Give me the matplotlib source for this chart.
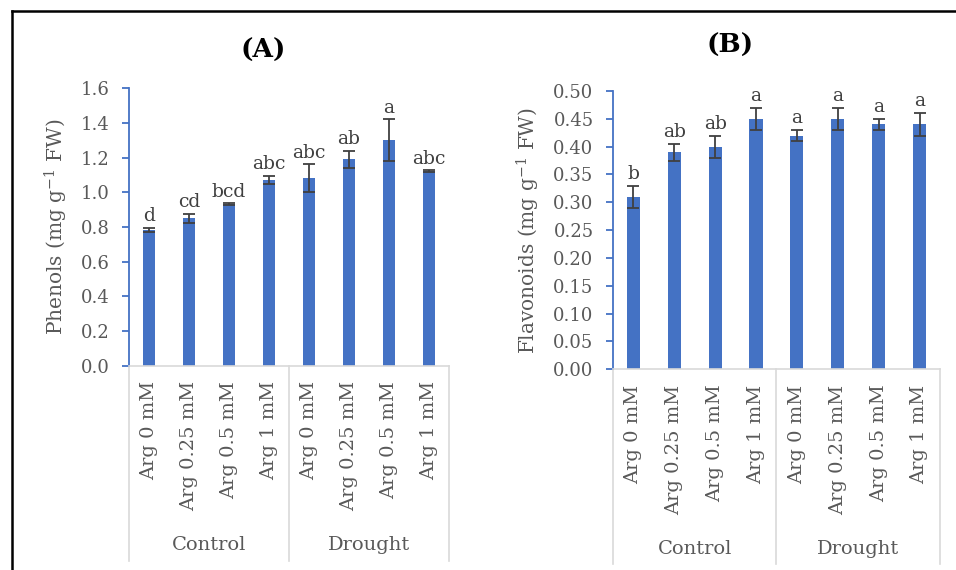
import matplotlib
matplotlib.use('Agg')
import matplotlib.pyplot as plt
from matplotlib.lines import Line2D

plt.rcParams['font.family'] = ['DejaVu Serif']
plt.rcParams['mathtext.fontset'] = 'dejavuserif'

# Data
treatments = ['Arg 0 mM', 'Arg 0.25 mM', 'Arg 0.5 mM', 'Arg 1 mM',
              'Arg 0 mM', 'Arg 0.25 mM', 'Arg 0.5 mM', 'Arg 1 mM']
groups = ['Control', 'Drought']

phenols = [0.785, 0.85, 0.93, 1.07, 1.08, 1.19, 1.30, 1.12]
phenols_err = [0.012, 0.025, 0.006, 0.022, 0.08, 0.05, 0.12, 0.006]
phenols_letters = ['d', 'cd', 'bcd', 'abc', 'abc', 'ab', 'a', 'abc']

flavonoids = [0.31, 0.39, 0.40, 0.45, 0.42, 0.45, 0.44, 0.44]
flavonoids_err = [0.02, 0.015, 0.02, 0.02, 0.01, 0.02, 0.01, 0.02]
flavonoids_letters = ['b', 'ab', 'ab', 'a', 'a', 'a', 'a', 'a']

bar_color = '#4472C4'
text_gray = '#595959'
grid_gray = '#D9D9D9'

fig = plt.figure(figsize=(9.56, 5.70), dpi=100)
axA = fig.add_axes([0.1349, 0.3579, 0.3347, 0.4877])
axB = fig.add_axes([0.6412, 0.3521, 0.3420, 0.4883])


def draw_panel(ax, vals, errs, letters, ymax, step, fmt, ylabel, title, title_xy):
    x = list(range(len(vals)))
    ax.bar(x, vals, width=0.32, color=bar_color, zorder=2)
    ax.errorbar(x, vals, yerr=errs, fmt='none', ecolor='#404040',
                elinewidth=1.3, capsize=4.5, capthick=1.3, zorder=3)
    for xi, v, e, lab in zip(x, vals, errs, letters):
        ax.text(xi, v + e + ymax * 0.01, lab, ha='center', va='bottom',
                fontsize=13.5, color='#404040')
    ax.set_xlim(-0.5, len(vals) - 0.5)
    ax.set_ylim(0, ymax)
    ticks = [i * step for i in range(int(round(ymax / step)) + 1)]
    ax.set_yticks(ticks)
    ax.set_yticklabels([fmt.format(t) for t in ticks], fontsize=13, color=text_gray)
    ax.set_xticks(x)
    ax.set_xticklabels(treatments, rotation=90, fontsize=14, color=text_gray)
    ax.tick_params(axis='x', length=0, pad=11)
    ax.tick_params(axis='y', length=5, width=1.3, color=bar_color, pad=9)
    for s in ['top', 'right']:
        ax.spines[s].set_visible(False)
    ax.spines['left'].set_color(bar_color)
    ax.spines['left'].set_linewidth(1.3)
    ax.spines['bottom'].set_color(grid_gray)
    ax.spines['bottom'].set_linewidth(1.2)
    ax.set_ylabel(ylabel, fontsize=14.5, color=text_gray, labelpad=8)

    # group separators and labels below the axis
    trans = ax.get_xaxis_transform()
    for xs in [-0.5, 3.5, 7.5]:
        ax.add_line(Line2D([xs, xs], [0, -0.70], transform=trans, color=grid_gray,
                           lw=1.2, clip_on=False))
    for gi, g in enumerate(groups):
        ax.text(1.5 + gi * 4, -0.645, g, transform=trans, ha='center', va='center',
                fontsize=14, color=text_gray)
    fig.text(title_xy[0], title_xy[1], title, ha='center', va='center',
             fontsize=19, fontweight='bold', color='black')


draw_panel(axA, phenols, phenols_err, phenols_letters, 1.6, 0.2, '{:.1f}',
           'Phenols (mg g$^{-1}$ FW)', '(A)', (263 / 956, 1 - 50 / 570))
draw_panel(axB, flavonoids, flavonoids_err, flavonoids_letters, 0.5, 0.05, '{:.2f}',
           'Flavonoids (mg g$^{-1}$ FW)', '(B)', (730 / 956, 1 - 45 / 570))

# frame lines (top and left) as in the source image
fig.add_artist(Line2D([12 / 956, 1.0], [1 - 11 / 570, 1 - 11 / 570],
                      transform=fig.transFigure, color='black', lw=1.8))
fig.add_artist(Line2D([12 / 956, 12 / 956], [0, 1 - 11 / 570],
                      transform=fig.transFigure, color='black', lw=1.8))

fig.savefig('out.png', dpi=100)
